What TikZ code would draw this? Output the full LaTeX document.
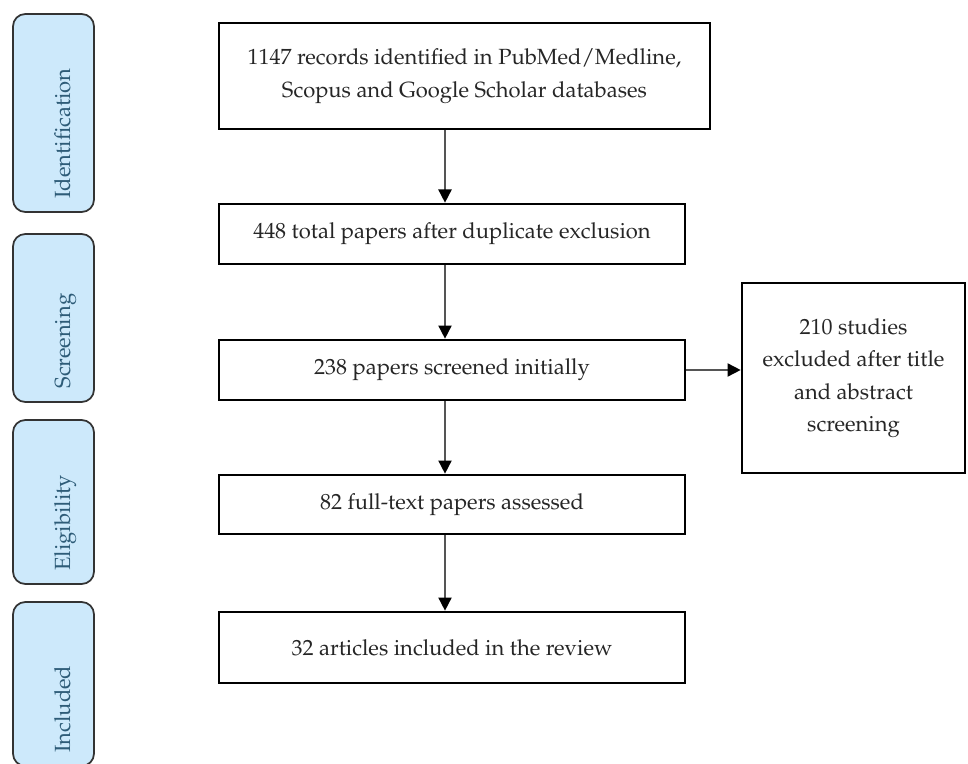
\documentclass[tikz,border=0pt]{standalone}
\usepackage[T1]{fontenc}
\usepackage{mathpazo}
\usetikzlibrary{arrows.meta}

\definecolor{phasefill}{HTML}{CDE9FB}
\definecolor{phasetext}{HTML}{2E5C78}
\definecolor{linegray}{HTML}{555555}

\tikzset{
  stagebox/.style={draw=black, line width=1.5pt, fill=white, align=center,
    font=\fontsize{12.5}{18.5}\selectfont, text=black!85, inner sep=0pt},
  phasebox/.style={draw=black!80, line width=1pt, rounded corners=7pt,
    fill=phasefill, minimum width=1.62cm},
  phaselabel/.style={rotate=90, anchor=base west, text=phasetext,
    font=\fontsize{12.5}{15}\selectfont, inner sep=0pt},
  flow/.style={-{Triangle[width=7.5pt,length=7.5pt,color=black]}, line width=0.9pt, draw=linegray},
}

\begin{document}
\begin{tikzpicture}
    \useasboundingbox (0,0) rectangle (19.36,15.26);

    % Phases on the left
    \node[phasebox, minimum height=3.96cm] (idbox) at (1.07,13.00) {};
    \node[phaselabel] (idtext) at ([xshift=0.33cm, yshift=0.28cm]idbox.south) {Identification};
    \node[phasebox, minimum height=3.36cm] (scbox) at (1.07,8.90) {};
    \node[phaselabel] (sctext) at ([xshift=0.33cm, yshift=0.28cm]scbox.south) {Screening};
    \node[phasebox, minimum height=3.28cm] (elbox) at (1.07,5.22) {};
    \node[phaselabel] (eltext) at ([xshift=0.33cm, yshift=0.28cm]elbox.south) {Eligibility};
    \node[phasebox, minimum height=3.28cm] (inbox) at (1.07,1.58) {};
    \node[phaselabel] (intext) at ([xshift=0.33cm, yshift=0.28cm]inbox.south) {Included};

    % Flow boxes
    \node[stagebox, minimum width=9.82cm, minimum height=2.12cm] (records) at (9.29,13.74)
        {1147 records identified in PubMed/Medline,\\Scopus and Google Scholar databases};
    \node[stagebox, minimum width=9.32cm, minimum height=1.2cm] (dedup) at (9.04,10.58)
        {448 total papers after duplicate exclusion};
    \node[stagebox, minimum width=9.32cm, minimum height=1.2cm] (screened) at (9.04,7.86)
        {238 papers screened initially};
    \node[stagebox, minimum width=9.32cm, minimum height=1.18cm] (fulltext) at (9.04,5.17)
        {82 full-text papers assessed};
    \node[stagebox, minimum width=9.32cm, minimum height=1.42cm] (included) at (9.04,2.31)
        {32 articles included in the review};
    \node[stagebox, minimum width=4.46cm, minimum height=3.8cm] (excluded) at (17.07,7.70)
        {210 studies\\excluded after title\\and abstract\\screening};

    % Arrows
    \coordinate (spine) at (8.90,0);
    \draw[flow] (records.south -| spine) -- (dedup.north -| spine);
    \draw[flow] (dedup.south -| spine) -- (screened.north -| spine);
    \draw[flow] (screened.south -| spine) -- (fulltext.north -| spine);
    \draw[flow] (fulltext.south -| spine) -- (included.north -| spine);
    \draw[flow] (screened.east) -- (excluded.west |- screened.east);
\end{tikzpicture}
\end{document}
